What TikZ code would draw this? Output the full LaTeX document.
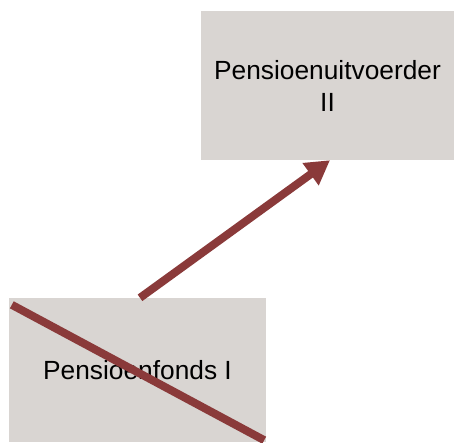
\documentclass[tikz,border=0pt]{standalone}
\usepackage{fontspec}
\setmainfont{Liberation Sans}
\usetikzlibrary{arrows.meta}
\definecolor{boxgray}{HTML}{D9D5D2}
\definecolor{arrowred}{HTML}{8A3A3A}
\begin{document}
\begin{tikzpicture}[x=1pt,y=-1pt,
  box/.style={fill=boxgray,draw=none,inner sep=0pt,align=center,
    font=\fontsize{26.3}{32}\selectfont},
  link/.style={draw=arrowred,line width=8pt,-{Triangle[length=24pt,width=26pt]}},
  strike/.style={draw=arrowred,line width=8pt}]
\useasboundingbox (0,0) rectangle (454,442);
\node[box,minimum width=253pt,minimum height=149pt] (a) at (327.5,85.5) {Pensioenuitvoerder\\II};
\node[box,minimum width=257pt,minimum height=144pt] (b) at (137.5,370) {\raisebox{-2pt}{Pensioenfonds I}};
\draw[link] ([xshift=2.5pt]b.north) -- ([xshift=2.5pt]a.south);
\draw[strike] ([shift={(3pt,-7pt)}]b.north west) -- ([shift={(-2pt,2pt)}]b.south east);
\end{tikzpicture}
\end{document}
